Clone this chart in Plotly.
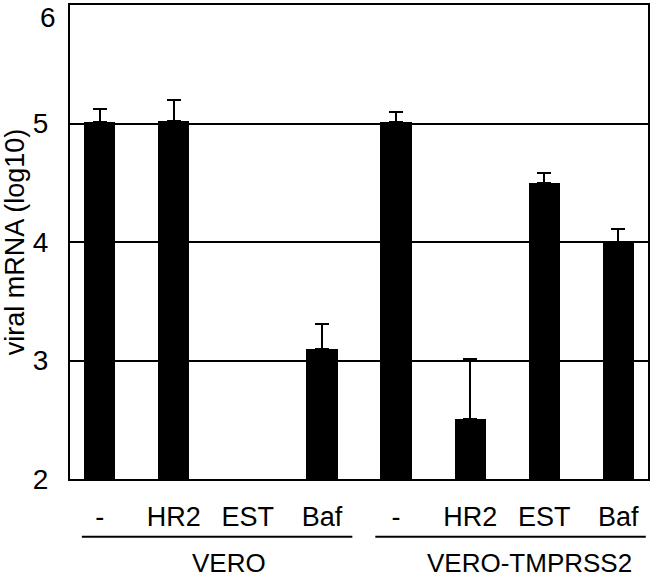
import plotly.graph_objects as go

###################
####   DATA    ####
###################
treatments = ["-", "HR2", "EST", "Baf", "-", "HR2", "EST", "Baf"]
groups = ["VERO", "VERO-TMPRSS2"]
mrna_log10 = [5.01, 5.02, None, 3.10, 5.01, 2.51, 4.50, 4.00]
mrna_err = [0.11, 0.18, 0, 0.21, 0.09, 0.50, 0.08, 0.11]
y_ticks = [2, 3, 4, 5]
y_top = 6

FONT = "Liberation Sans, Arial, sans-serif"

positions = list(range(len(treatments)))

bars = go.Bar(x=positions,
              y=mrna_log10,
              width=0.42,
              marker_color="black",
              marker_line_width=0,
              error_y=dict(type="data", array=mrna_err,
                           arrayminus=[0] * len(mrna_err),
                           symmetric=False, color="black",
                           thickness=2, width=7),
              showlegend=False)

figure = go.Figure(bars)

# group underline + group name
group_spans = [(-0.24, 3.41), (3.72, 7.37)]
group_label_x = [1.75, 5.8]
for name, (x0, x1), lx in zip(groups, group_spans, group_label_x):
    figure.add_shape(type="line", xref="x", yref="paper",
                     x0=x0, x1=x1, y0=-0.122, y1=-0.122,
                     line=dict(color="black", width=2))
    figure.add_annotation(text=name, xref="x", yref="paper",
                          x=lx, y=-0.178, yanchor="middle",
                          showarrow=False,
                          font=dict(family=FONT, size=26, color="black"))

# top tick label sits just inside the page (would be hidden past the div)
figure.add_annotation(text=str(y_top), xref="paper", yref="y",
                      x=0, y=y_top, xanchor="right", yanchor="top",
                      xshift=-12, yshift=5, showarrow=False,
                      font=dict(family=FONT, size=28, color="black"))

figure.update_layout(width=650, height=577,
                     margin=dict(l=70, r=2, t=5, b=98),
                     plot_bgcolor="white", paper_bgcolor="white",
                     font=dict(family=FONT, color="black"),
                     bargap=0)

figure.update_xaxes(range=[-0.4, 7.4], automargin=False,
                    tickvals=positions, ticktext=treatments,
                    tickfont=dict(size=27),
                    ticks="", ticklabelstandoff=13,
                    showline=True, linecolor="black", linewidth=2,
                    mirror=True, showgrid=False, zeroline=False)

figure.update_yaxes(range=[2, y_top], tickvals=y_ticks, automargin=False,
                    tickfont=dict(size=28),
                    ticks="", ticklabelstandoff=14,
                    title=dict(text="viral mRNA (log10)",
                               font=dict(size=27), standoff=7),
                    showline=True, linecolor="black", linewidth=2,
                    mirror=True, showgrid=True, gridcolor="black",
                    gridwidth=1.6, zeroline=False)

figure.write_html("out.html", config={"displayModeBar": False},
                  post_script="document.body.style.margin='0px';")
